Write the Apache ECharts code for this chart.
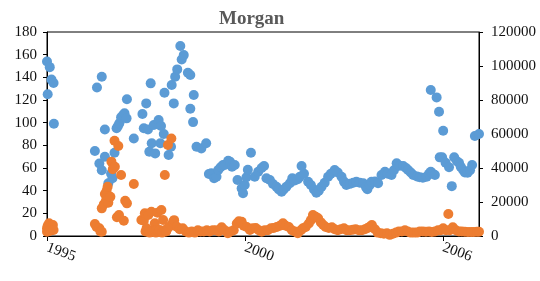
<!DOCTYPE html>
<html>
<head>
<meta charset="utf-8">
<script src="https://cdn.jsdelivr.net/npm/echarts@6/dist/echarts.min.js"></script>
<style>
  html, body { margin: 0; padding: 0; background: #fff; }
  #main { width: 540px; height: 281px; }
</style>
</head>
<body>
<div id="main"></div>
<script>
// dates are decimal years
const blueYears = [
  1995.00, 1995.02, 1995.08, 1995.13, 1995.19, 1995.20,
  1996.39, 1996.45, 1996.52, 1996.59, 1996.59, 1996.68, 1996.68, 1996.78, 1996.86, 1996.90, 1996.96,
  1997.02, 1997.06, 1997.10, 1997.15, 1997.21, 1997.25, 1997.31, 1997.32, 1997.52, 1997.77, 1997.81,
  1997.88, 1997.93, 1997.97, 1998.01, 1998.04, 1998.10, 1998.14, 1998.24, 1998.29, 1998.31, 1998.39,
  1998.41, 1998.53, 1998.60, 1998.62, 1998.68, 1998.72, 1998.78, 1998.87, 1998.91, 1998.97,
  1999.09, 1999.16, 1999.16, 1999.24, 1999.26, 1999.34, 1999.48, 1999.62, 1999.70, 1999.77, 1999.85,
  1999.92, 1999.97, 2000.04, 2000.11, 2000.16, 2000.26, 2000.31, 2000.37, 2000.45, 2000.53, 2000.65,
  2000.69, 2000.74, 2000.79, 2000.83, 2000.92, 2001.03, 2001.13, 2001.23, 2001.30, 2001.37, 2001.47,
  2001.56, 2001.66, 2001.73, 2001.81, 2001.87, 2001.95, 2002.05, 2002.12, 2002.19, 2002.28, 2002.34,
  2002.39, 2002.46, 2002.58, 2002.66, 2002.75, 2002.82, 2002.89, 2002.97, 2003.06, 2003.16, 2003.24,
  2003.35, 2003.44, 2003.55, 2003.62, 2003.69, 2003.79, 2003.89, 2003.98, 2004.08, 2004.18, 2004.26,
  2004.30, 2004.37, 2004.42, 2004.52, 2004.61, 2004.71, 2004.81, 2004.89, 2005.00, 2005.07, 2005.15,
  2005.24, 2005.34, 2005.42, 2005.48, 2005.56, 2005.63, 2005.74, 2005.82, 2005.91, 2006.02, 2006.09,
  2006.14, 2006.14, 2006.20, 2006.26, 2006.31, 2006.38, 2006.40, 2006.47, 2006.50, 2006.57, 2006.67,
  2006.75, 2006.82, 2006.90, 2006.96, 2007.01, 2007.08, 2007.13, 2007.21, 2007.28, 2007.34, 2007.42,
  2007.54
];
const blueVals = [
  154, 125, 149, 138, 135, 99,
  75, 131, 64, 140.5, 58, 94, 70, 46.5, 55, 51, 73.5,
  95, 97, 99.4, 104.7, 106.8, 108.2, 103.8, 120.6, 86, 107.6, 95,
  117, 94, 74.4, 134.7, 81.8, 98, 72.9, 102.3, 81.8, 97, 90,
  126.4, 71.4, 78.8, 133.2, 117, 140.5, 147, 167.6, 155.8, 159.6,
  144, 142, 112.3, 100.5, 124.4, 78.8, 77.3, 81.8, 54.7, 55.3, 50.9,
  52.3, 58.2, 60.6, 62.6, 62.6, 66.4, 65.6, 61.1, 62.6, 49.4, 42,
  37.7, 45, 51.8, 58.5, 73.5, 52.3, 56.7, 60, 61.7, 50.9, 49.4,
  45.9, 43.5, 41, 39, 41, 43.5, 46.5, 50.9, 49, 50, 52.3,
  61.7, 55, 47.9, 45, 41, 38.2, 40, 43.5, 47, 52.3, 55,
  58.2, 56, 52.3, 48, 45, 46, 47, 47.9, 47, 46.5, 43,
  41.2, 45, 47.9, 48, 46.5, 53.8, 56.7, 55, 53.8, 58, 64.1,
  62, 61.7, 60, 58.2, 56, 53.8, 52.5, 51.8, 51.5, 52.3, 55,
  56.7, 128.8, 55, 53.8, 122.3, 109.6, 69.4, 69.4, 92.9, 64.6, 60.6,
  44, 69.4, 66, 64.6, 61, 58.2, 56, 55.8, 58, 62.6, 88.2,
  90
];

const orangeYears = [
  1995.00, 1995.00, 1995.02, 1995.06, 1995.08, 1995.17, 1995.19,
  1996.39, 1996.44, 1996.52, 1996.55, 1996.59, 1996.59, 1996.65, 1996.68, 1996.71, 1996.73, 1996.76,
  1996.78, 1996.84, 1996.87, 1996.91, 1996.96, 1996.97, 1997.03, 1997.07, 1997.09, 1997.15, 1997.23,
  1997.27, 1997.32, 1997.52, 1997.74, 1997.81, 1997.84, 1997.86, 1997.89, 1997.94, 1997.98, 1998.03,
  1998.06, 1998.13, 1998.16, 1998.18, 1998.21, 1998.24, 1998.27, 1998.32, 1998.34, 1998.37, 1998.42,
  1998.42, 1998.46, 1998.51, 1998.51, 1998.59, 1998.61, 1998.66, 1998.69, 1998.77, 1998.85, 1998.94,
  1999.03, 1999.12, 1999.20, 1999.29, 1999.38, 1999.46, 1999.55, 1999.64, 1999.72, 1999.81, 1999.90,
  1999.99, 2000.07, 2000.16, 2000.25, 2000.33, 2000.42, 2000.51, 2000.57, 2000.65, 2000.71, 2000.80,
  2000.89, 2000.97, 2001.06, 2001.15, 2001.23, 2001.32, 2001.41, 2001.50, 2001.58, 2001.67, 2001.76,
  2001.85, 2001.93, 2002.02, 2002.11, 2002.19, 2002.28, 2002.37, 2002.43, 2002.51, 2002.60, 2002.66,
  2002.72, 2002.80, 2002.87, 2002.95, 2003.02, 2003.09, 2003.18, 2003.27, 2003.35, 2003.44, 2003.53,
  2003.62, 2003.70, 2003.79, 2003.88, 2003.96, 2004.05, 2004.14, 2004.23, 2004.31, 2004.37, 2004.43,
  2004.52, 2004.60, 2004.69, 2004.78, 2004.87, 2004.95, 2005.04, 2005.13, 2005.21, 2005.30, 2005.39,
  2005.47, 2005.56, 2005.65, 2005.74, 2005.82, 2005.91, 2006.00, 2006.09, 2006.17, 2006.26, 2006.35,
  2006.43, 2006.50, 2006.58, 2006.65, 2006.69, 2006.78, 2006.87, 2006.96, 2007.04, 2007.13, 2007.22,
  2007.31, 2007.39, 2007.48, 2007.54
];
const orangeVals = [
  3.8, 6.8, 9, 11.2, 4.4, 9.7, 5.3,
  10.6, 8, 6.8, 4, 3.8, 24.4, 28, 37, 31.1, 40, 43.5,
  29.4, 34.7, 65.6, 59, 84, 61.1, 16.5, 79.4, 18.5, 53.8, 13.5,
  31.1, 28.8, 45.9, 14.1, 13.5, 20, 4, 6.8, 18.5, 3, 21.4,
  5, 11.2, 3, 5.3, 20.6, 4, 5.3, 23, 3, 14.1, 53.8,
  5, 4, 80.3, 7, 9, 86, 12.6, 14, 8.2, 6, 6.8,
  4, 3, 4, 3, 5, 4, 4, 5, 4, 5, 5,
  4, 7.7, 5, 2.4, 4, 5, 11, 13, 12.6, 9, 8,
  5.3, 6.8, 7, 5, 3.8, 5, 5, 6.8, 7, 8, 9,
  11.2, 9, 8, 5, 4, 2.4, 5, 6.8, 8, 11, 14,
  18.5, 17, 15.6, 12, 9.7, 8, 7, 7.7, 6, 5, 6,
  6.8, 5, 5, 5.5, 6, 5, 5, 6, 7, 8.2, 9.7,
  6, 3, 2.4, 2, 2.4, 1, 2, 3, 4, 4, 5,
  4, 3, 3, 3, 4, 4, 3.8, 4, 3.5, 4, 5,
  5, 6.8, 5, 19.4, 5, 7.7, 5, 4, 4, 3.8, 3.5,
  3.5, 3.5, 3.8, 3.8
];

const xTicks = [1995, 2000.75, 2006.5];

const toPairs = (xs, ys) => xs.map((x, i) => [x, ys[i]]);

const font = "Liberation Serif";
let chart = echarts.init(document.getElementById("main"));
let option = {
  animation: false,
  title: {
    text: "Morgan",
    left: 214,
    top: 5,
    textStyle: { fontFamily: font, fontSize: 19, fontWeight: "bold", color: "#595959" },
  },
  grid: {
    left: 47, right: 61, top: 32, bottom: 45,
    show: true, borderColor: "#000", borderWidth: 1, backgroundColor: "transparent",
  },
  xAxis: {
    type: "value",
    min: 1995,
    max: 2007.54,
    splitLine: { show: false },
    axisLine: { lineStyle: { color: "#000" } },
    axisTick: { show: true, length: 5, lineStyle: { color: "#000" }, customValues: xTicks },
    axisLabel: {
      customValues: xTicks,
      rotate: -20,
      margin: 11,
      fontFamily: font,
      fontSize: 15,
      color: "#111",
      formatter: (v) => String(Math.floor(v)),
    },
  },
  yAxis: [
    {
      type: "value",
      min: 0, max: 180, interval: 20,
      splitLine: { show: false },
      axisLine: { show: true, lineStyle: { color: "#000" } },
      axisTick: { show: true, length: 4, lineStyle: { color: "#000" } },
      axisLabel: { margin: 10, fontFamily: font, fontSize: 15, color: "#111" },
    },
    {
      type: "value",
      position: "right",
      min: 0, max: 120000, interval: 20000,
      splitLine: { show: false },
      axisLine: { show: true, lineStyle: { color: "#000" } },
      axisTick: { show: true, length: 4, lineStyle: { color: "#000" } },
      axisLabel: {
        margin: 12, fontFamily: font, fontSize: 15, color: "#111",
        formatter: (v) => String(v),
      },
    },
  ],
  series: [
    {
      type: "scatter",
      yAxisIndex: 0,
      symbolSize: 10,
      itemStyle: { color: "#5B9BD5", opacity: 1 },
      data: toPairs(blueYears, blueVals),
    },
    {
      type: "scatter",
      yAxisIndex: 0,
      symbolSize: 10,
      itemStyle: { color: "#ED7D31", opacity: 1 },
      data: toPairs(orangeYears, orangeVals),
    },
  ],
};
chart.setOption(option);
</script>
</body>
</html>
